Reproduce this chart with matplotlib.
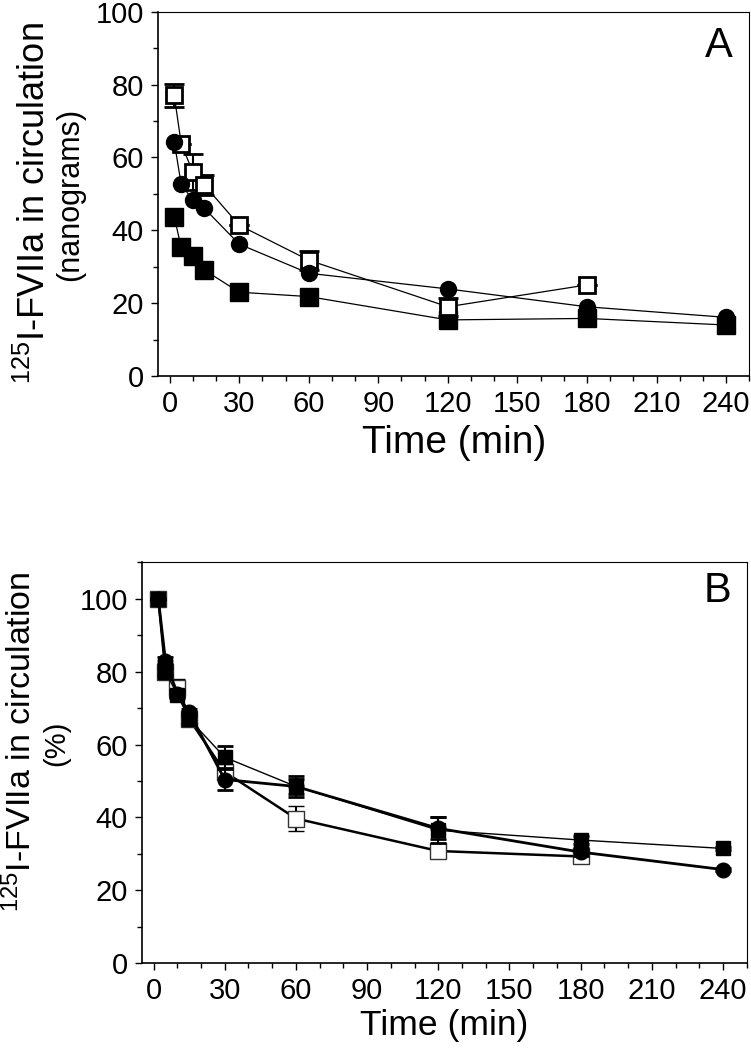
import matplotlib
matplotlib.use('Agg')
import matplotlib.pyplot as plt
from matplotlib.ticker import MultipleLocator

plt.rcParams['font.family'] = ['Liberation Sans', 'DejaVu Sans']
plt.rcParams['mathtext.fontset'] = 'custom'
plt.rcParams['mathtext.rm'] = 'Liberation Sans'
plt.rcParams['mathtext.default'] = 'regular'

# Panel A: 125I-FVIIa in circulation (nanograms)
time_full = [2, 5, 10, 15, 30, 60, 120, 180, 240]
time_open = [2, 5, 10, 15, 30, 60, 120, 180]

a_open = [77, 63.8, 56, 52.4, 41.4, 31.8, 19, 25]
a_open_err = [3.1, 0, 5, 2.8, 0, 2.6, 2.5, 0]
a_circle = [64.3, 52.6, 48.3, 46, 36.2, 28.2, 23.9, 19, 16.1]
a_square = [43.7, 35.3, 32.9, 29.1, 23, 21.8, 15.4, 15.8, 14]

# Panel B: 125I-FVIIa in circulation (%)
b_square = [100, 80, 73.7, 67, 56.5, 48.5, 36.5, 33.8, 31.5]
b_square_err = [0, 1, 1, 1.5, 3, 3, 3.5, 1, 0.5]
b_circle = [100, 83, 74, 68.8, 50.4, 48.5, 37, 30.5, 25.7]
b_circle_err = [0, 1, 1, 1, 3, 2, 3, 1, 0.5]
b_open = [100, 80, 75.5, 67, 52.5, 39.7, 30.8, 29.3]
b_open_err = [0, 1, 2.5, 1, 2, 3.5, 1, 1]

fig = plt.figure(figsize=(7.51, 10.5), dpi=100)
axA = fig.add_axes([0.2104, 0.6419, 0.7873, 0.3470])
axB = fig.add_axes([0.1887, 0.0826, 0.8056, 0.3819])


def style_axes(ax, ymax):
    ax.set_xlim(-5, 250)
    ax.set_ylim(0, ymax)
    ax.set_xticks(range(0, 241, 30))
    ax.xaxis.set_minor_locator(MultipleLocator(10))
    ax.set_yticks(range(0, 101, 20))
    ax.yaxis.set_minor_locator(MultipleLocator(10))
    ax.tick_params(which='major', direction='out', length=5, width=1.0,
                   labelsize=21, pad=5)
    ax.tick_params(which='minor', direction='out', length=3.4, width=1.0)
    ax.tick_params(top=False, right=False, which='both')
    for side in ['left', 'bottom']:
        ax.spines[side].set_linewidth(1.2)
    for side in ['top', 'right']:
        ax.spines[side].set_linewidth(0.8)


def pix_text(x_px, y_px, s, size):
    # place a rotated label by its centre, in figure pixels from top-left
    fig.text(x_px / 751, 1 - y_px / 1050, s, rotation=90, ha='center',
             va='center', fontsize=size)


# ---- Panel A ----
axA.plot(time_full, a_square, color='black', lw=0.9, marker='s', ms=13,
         mfc='black', mec='black', zorder=2)
axA.errorbar(time_open, a_open, yerr=a_open_err, color='black', lw=0.9,
             marker='s', ms=12, mfc='white', mec='black', mew=2,
             ecolor='black', elinewidth=1.5, capsize=7, capthick=2, zorder=3)
axA.plot(time_full, a_circle, color='black', lw=0.9, marker='o', ms=11.5,
         mfc='black', mec='black', zorder=4)
style_axes(axA, 100)
axA.set_xlabel('Time (min)', fontsize=28, labelpad=5)
pix_text(35, 203, '$^{125}$I-FVIIa in circulation', 26)
pix_text(70, 194, '(nanograms)', 22)
axA.text(236.8, 90.5, 'A', fontsize=30, ha='center', va='center')

# ---- Panel B ----
axB.errorbar(time_open, b_open, yerr=b_open_err, color='black', lw=1.8,
             marker='s', ms=11, mfc='white', mec='#333333', mew=1,
             ecolor='black', elinewidth=1.5, capsize=5.5, capthick=2, zorder=2)
axB.errorbar(time_full, b_circle, yerr=b_circle_err, color='black', lw=2,
             marker='o', ms=10.5, mfc='black', mec='black',
             ecolor='black', elinewidth=1.5, capsize=5.5, capthick=2, zorder=3)
axB.errorbar(time_full, b_square, yerr=b_square_err, color='black', lw=1,
             marker='s', ms=10.5, mfc='black', mec='black',
             ecolor='black', elinewidth=1.5, capsize=5.5, capthick=2, zorder=4)
style_axes(axB, 110)
axB.set_xlabel('Time (min)', fontsize=25.5, labelpad=3)
pix_text(21, 742, '$^{125}$I-FVIIa in circulation', 24.5)
pix_text(56, 743, '(%)', 21)
axB.text(237.6, 102.2, 'B', fontsize=30, ha='center', va='center')

fig.savefig('out.png', dpi=100)
